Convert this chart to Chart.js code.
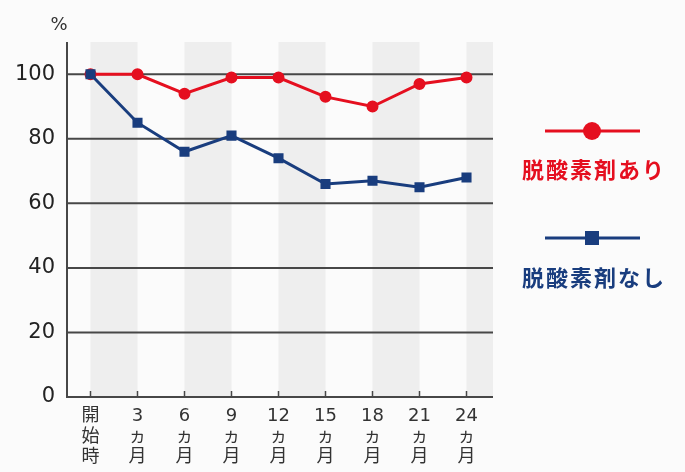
<!DOCTYPE html>
<html lang="ja">
<head>
  <meta charset="UTF-8" />
  <title>脱酸素剤の有無による推移</title>
  <style>
    html, body { margin: 0; padding: 0; background: #fbfbfb; }
    #wrap { width: 685px; height: 472px; }
  </style>
</head>
<body>
  <div id="wrap"><canvas id="chart" width="685" height="472"></canvas></div>

  <script src="https://cdn.jsdelivr.net/npm/chart.js"></script>
  <script>
    const periods = [["開", "始", "時"], ["3", "ヵ", "月"], ["6", "ヵ", "月"], ["9", "ヵ", "月"], ["12", "ヵ", "月"],
      ["15", "ヵ", "月"], ["18", "ヵ", "月"], ["21", "ヵ", "月"], ["24", "ヵ", "月"]];
    const withAbsorber = [100, 100, 94, 99, 99, 93, 90, 97, 99];
    const withoutAbsorber = [100, 85, 76, 81, 74, 66, 67, 65, 68];
    const seriesNames = ["脱酸素剤あり", "脱酸素剤なし"];
    const yTicks = [0, 20, 40, 60, 80, 100];

    const RED = "#e50f1f";
    const BLUE = "#193d7e";
    const FONT = "'DejaVu Sans', 'Noto Sans CJK JP', sans-serif";

    // gray columns, small up-ticks, "%" label and the legend on the right
    const decor = {
      id: "decor",
      beforeDatasetsDraw(chart) {
        const { ctx, chartArea, scales } = chart;
        const x = scales.x;
        ctx.save();
        ctx.fillStyle = "#eeeeee";
        for (let i = 0; i < periods.length; i += 2) {
          const x0 = x.getPixelForValue(i);
          const x1 = i + 1 < periods.length ? x.getPixelForValue(i + 1) : chartArea.right + 3;
          ctx.fillRect(x0, chartArea.top, x1 - x0, chartArea.bottom - chartArea.top);
        }
        // horizontal lines over the bands
        ctx.strokeStyle = "#474747";
        ctx.lineWidth = 2;
        yTicks.forEach(v => {
          const y = scales.y.getPixelForValue(v);
          ctx.beginPath();
          ctx.moveTo(chartArea.left, y);
          ctx.lineTo(chartArea.right + 3, y);
          ctx.stroke();
        });
        ctx.beginPath();
        ctx.moveTo(chartArea.left, chartArea.top);
        ctx.lineTo(chartArea.left, chartArea.bottom);
        ctx.stroke();
        ctx.lineWidth = 1.5;
        for (let i = 0; i < periods.length; i++) {
          const px = x.getPixelForValue(i);
          ctx.beginPath();
          ctx.moveTo(px, chartArea.bottom);
          ctx.lineTo(px, chartArea.bottom - 6);
          ctx.stroke();
        }
        ctx.restore();
      },
      afterDraw(chart) {
        const { ctx } = chart;
        ctx.save();
        ctx.fillStyle = "#333";
        ctx.font = "18px " + FONT;
        ctx.textAlign = "center";
        ctx.textBaseline = "middle";
        ctx.fillText("%", 59, 25);

        const items = [
          { color: RED, y: 131, shape: "circle", textY: 172 },
          { color: BLUE, y: 238, shape: "square", textY: 280 }
        ];
        items.forEach((it, i) => {
          ctx.strokeStyle = it.color;
          ctx.fillStyle = it.color;
          ctx.lineWidth = 3;
          ctx.beginPath();
          ctx.moveTo(545, it.y);
          ctx.lineTo(640, it.y);
          ctx.stroke();
          if (it.shape === "circle") {
            ctx.beginPath();
            ctx.arc(592, it.y, 9, 0, Math.PI * 2);
            ctx.fill();
          } else {
            ctx.fillRect(585, it.y - 7, 14, 14);
          }
          ctx.font = "bold 22px " + FONT;
          ctx.letterSpacing = "2px";
          ctx.fillText(seriesNames[i], 594, it.textY);
          ctx.letterSpacing = "0px";
        });
        ctx.restore();
      }
    };

    new Chart(document.getElementById("chart"), {
      type: "line",
      data: {
        labels: periods,
        datasets: [
          {
            label: seriesNames[1],
            data: withoutAbsorber,
            borderColor: BLUE,
            backgroundColor: BLUE,
            borderWidth: 3,
            pointStyle: "rect",
            pointRadius: 5,
            pointHoverRadius: 5,
            tension: 0
          },
          {
            label: seriesNames[0],
            data: withAbsorber,
            borderColor: RED,
            backgroundColor: RED,
            borderWidth: 3,
            pointStyle: "circle",
            pointRadius: 4.5,
            pointHoverRadius: 4.5,
            tension: 0
          }
        ]
      },
      options: {
        responsive: false,
        animation: false,
        layout: { padding: { left: 0, top: 42, right: 195, bottom: 0 } },
        plugins: { legend: { display: false }, tooltip: { enabled: false } },
        scales: {
          x: {
            offset: true,
            grid: { display: false, drawTicks: false },
            border: { display: true, color: "#474747", width: 2 },
            ticks: {
              color: "#333",
              font: { family: FONT, size: 18, lineHeight: 1.15 },
              padding: 9,
              maxRotation: 0,
              autoSkip: false
            },
            afterFit(scale) { scale.height = 75; }
          },
          y: {
            min: 0,
            max: 110,
            grid: { display: false, drawTicks: false },
            border: { display: false },
            ticks: {
              stepSize: 20,
              color: "#222",
              font: { family: FONT, size: 21 },
              padding: 12
            },
            afterBuildTicks(scale) {
              scale.ticks = yTicks.map(v => ({ value: v }));
            },
            afterFit(scale) { scale.width = 67; }
          }
        }
      },
      plugins: [decor]
    });
  </script>
</body>
</html>
